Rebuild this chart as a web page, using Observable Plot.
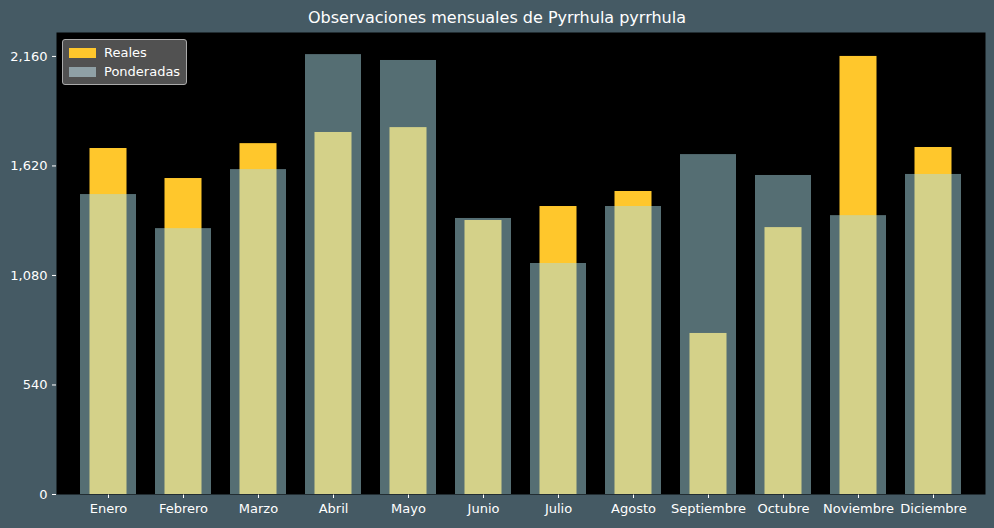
<!DOCTYPE html>
<html><head><meta charset="utf-8">
<script src="https://cdn.jsdelivr.net/npm/d3@7"></script>
<script src="https://cdn.jsdelivr.net/npm/@observablehq/plot@0.6"></script>
<style>
body{margin:0;background:#455a64;font-family:"DejaVu Sans",sans-serif;}
#wrap{position:relative;width:994px;height:528px;}
#title{height:32px;line-height:36px;text-align:center;color:#fff;font-size:16px;}
#legend{position:absolute;left:62px;top:39px;background:rgba(90,90,90,0.9);border:1px solid #aaa;border-radius:3px;padding:3px 6px;color:#fff;font-size:13px;line-height:19px;}
#legend span{display:inline-block;width:27px;height:10px;margin-right:8px;vertical-align:-1px;}
</style></head><body>
<div id="wrap"><div id="title">Observaciones mensuales de Pyrrhula pyrrhula</div><div id="chart"></div>
<div id="legend"><div><span style="background:#ffc72c"></span>Reales</div><div><span style="background:#8fa0a6"></span>Ponderadas</div></div></div>
<script>
const months = ["Enero","Febrero","Marzo","Abril","Mayo","Junio","Julio","Agosto","Septiembre","Octubre","Noviembre","Diciembre"];
const reales = [1706,1558,1730,1785,1809,1351,1420,1494,794,1316,2160,1711];
const ponderadas = [1479,1311,1602,2169,2140,1361,1139,1420,1676,1573,1375,1578];
const yTicks = [0,540,1080,1620,2160];

const rows = months.map((m,i)=>({m, r:reales[i], p:ponderadas[i]}));
const chart = Plot.plot({
  width:994, height:496,
  marginTop:0, marginBottom:34, marginLeft:56, marginRight:9,
  style:{background:"transparent", color:"#fff", fontSize:"13px", fontFamily:"DejaVu Sans"},
  x:{domain:months, label:null, padding:0.25, tickSize:4},
  y:{domain:[0,2278], ticks:yTicks, label:null, tickSize:4},
  marks:[
    Plot.frame({fill:"black"}),
    Plot.barY(rows,{x:"m", y:"r", fill:"#ffc72c", insetLeft:9.5, insetRight:9.5}),
    Plot.barY(rows,{x:"m", y:"p", fill:"rgb(170,220,230)", fillOpacity:0.5})
  ]
});
document.getElementById("chart").append(chart);
</script></body></html>
